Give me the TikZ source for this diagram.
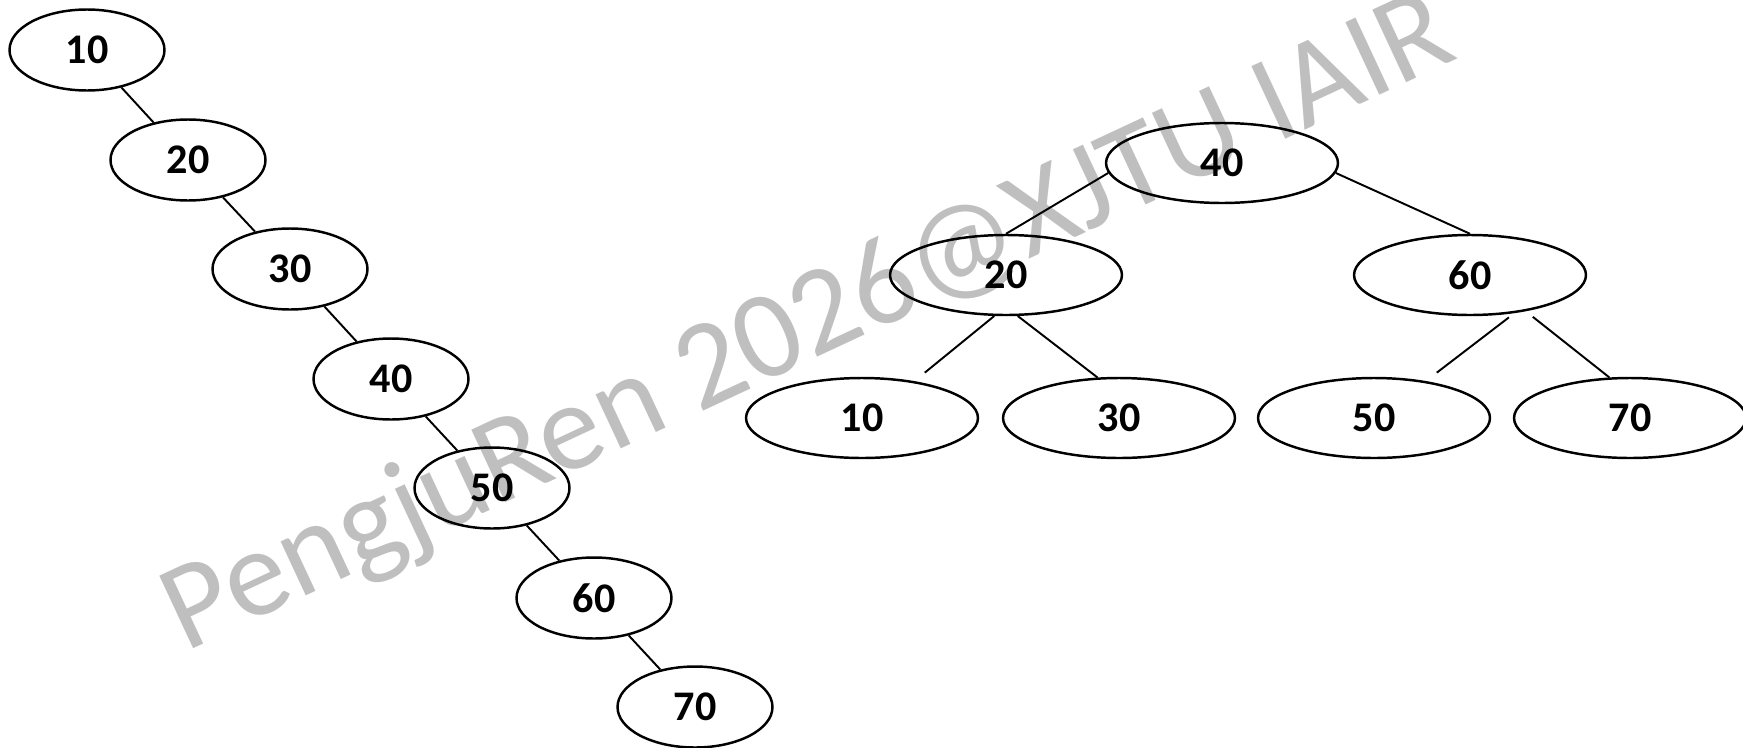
\documentclass[tikz,border=0pt]{standalone}
\usepackage{fontspec}
\setmainfont{Carlito}
\usepackage{tikz}
\usetikzlibrary{shapes.geometric}

\tikzset{
  chainnode/.style={ellipse, draw, line width=1.4pt, inner sep=0pt,
    minimum width=3.1cm, minimum height=1.62cm,
    font=\bfseries\fontsize{24}{28}\selectfont},
  treenode/.style={chainnode, minimum width=4.64cm, minimum height=1.6cm},
  link/.style={line width=1.1pt}
}

\begin{document}
\begin{tikzpicture}[x=0.02cm, y=-0.02cm]
  \useasboundingbox (0,0) rectangle (1743,747);

  % Watermark behind everything
  \node[anchor=base, rotate=25, text=black!25,
        font=\fontsize{71}{80}\selectfont] (mark) at (823,355)
        {PengjuRen 2026@XJTU IAIR};

  % Degenerate tree: every key becomes a right child
  \node[chainnode] (l10) at (87,50)  {10};
  \node[chainnode] (l20) at (188,160) {20};
  \node[chainnode] (l30) at (290,269) {30};
  \node[chainnode] (l40) at (391,379) {40};
  \node[chainnode] (l50) at (492,488) {50};
  \node[chainnode] (l60) at (594,598) {60};
  \node[chainnode] (l70) at (695,707) {70};

  \draw[link] (l10) -- (l20);
  \draw[link] (l20) -- (l30);
  \draw[link] (l30) -- (l40);
  \draw[link] (l40) -- (l50);
  \draw[link] (l50) -- (l60);
  \draw[link] (l60) -- (l70);

  % Balanced tree with the same keys
  \node[treenode] (r40) at (1222,163) {40};
  \node[treenode] (r20) at (1006,275) {20};
  \node[treenode] (r60) at (1470,275) {60};
  \node[treenode] (r10) at (862,418)  {10};
  \node[treenode] (r30) at (1119,418) {30};
  \node[treenode] (r50) at (1374,418) {50};
  \node[treenode] (r70) at (1630,418) {70};

  \draw[link] (r40.185) -- (r20.north);
  \draw[link] (r40.355) -- (r60.north);
  \draw[link] (r20.254) -- ([yshift=6pt]r10.29);
  \draw[link] (r20.286) -- (r30.118);
  \draw[link] ([yshift=-2pt]r60.315) -- ([yshift=6pt]r50.29);
  \draw[link] ([yshift=-4pt]r60.331) -- (r70.117);
\end{tikzpicture}
\end{document}
